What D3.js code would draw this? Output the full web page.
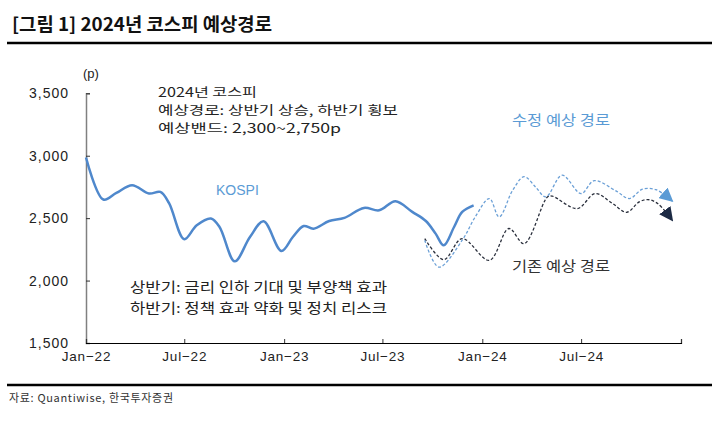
<!DOCTYPE html>
<html><head><meta charset="utf-8">
<script src="https://cdn.jsdelivr.net/npm/d3@7"></script>
<style>
body{margin:0;background:#fff;}
svg{display:block;font-family:"Noto Sans CJK KR","Noto Sans",sans-serif;}
</style></head><body>
<svg id="c" width="719" height="424"></svg>
<script>
// ---- data ----
const kospiDates = ["2022-01-01","2022-02-02","2022-02-26","2022-03-27","2022-04-27","2022-05-18","2022-06-03","2022-07-01","2022-07-24","2022-08-19","2022-09-04","2022-10-02","2022-10-30","2022-11-24","2022-12-27","2023-01-17","2023-02-06","2023-02-24","2023-03-25","2023-04-22","2023-05-28","2023-06-25","2023-07-25","2023-08-25","2023-09-19","2023-10-07","2023-10-22","2023-11-10","2023-11-25","2023-12-16"];
const kospiValues = [2986,2649,2702,2764,2697,2710,2620,2331,2443,2497,2429,2154,2349,2475,2237,2349,2437,2416,2477,2502,2582,2563,2636,2550,2477,2376,2282,2429,2550,2603];
const revisedDates = ["2023-09-17","2023-10-13","2023-11-25","2023-12-19","2024-01-14","2024-02-01","2024-02-26","2024-03-18","2024-04-08","2024-04-27","2024-05-27","2024-07-01","2024-07-25","2024-09-04","2024-09-28","2024-10-22","2024-11-16","2024-12-16"];
const revisedValues = [2323,2108,2323,2510,2657,2510,2724,2832,2750,2670,2844,2697,2800,2716,2657,2732,2728,2636];
const originalDates = ["2023-09-17","2023-10-22","2023-11-25","2024-01-14","2024-02-19","2024-03-18","2024-04-30","2024-05-09","2024-06-24","2024-07-27","2024-08-28","2024-09-23","2024-10-16","2024-11-01","2024-11-19","2024-12-16"];
const originalValues = [2336,2168,2336,2162,2417,2296,2670,2676,2577,2697,2617,2547,2630,2649,2617,2483];
const yTicks = [1500,2000,2500,3000,3500];
const xTickDates = ["2022-01-01","2022-07-01","2023-01-01","2023-07-01","2024-01-01","2024-07-01","2025-01-01"];
const xTickLabels = ["Jan−22","Jul−22","Jan−23","Jul−23","Jan−24","Jul−24",""];
const title = "[그림 1] 2024년 코스피 예상경로";
const source = "자료: Quantiwise, 한국투자증권";
const noteTop = ["2024년 코스피","예상경로: 상반기 상승, 하반기 횡보","예상밴드: 2,300~2,750p"];
const noteBottom = ["상반기: 금리 인하 기대 및 부양책 효과","하반기: 정책 효과 약화 및 정치 리스크"];

const parse = d3.timeParse("%Y-%m-%d");
const svg = d3.select("#c");
const x = d3.scaleTime().domain([parse("2022-01-01"), parse("2025-01-01")]).range([86, 681]);
const y = d3.scaleLinear().domain([1500, 3500]).range([343, 93.3]);
const lf = "Liberation Sans, Arial, sans-serif";
const tf = "Noto Sans CJK KR, sans-serif";

// title & rules
svg.append("text").attr("x", 12).attr("y", 31).attr("font-size", 18).attr("font-weight", 700)
  .attr("fill", "#111").attr("textLength", 260).attr("lengthAdjust", "spacingAndGlyphs").text(title);
svg.append("line").attr("x1", 7).attr("x2", 712).attr("y1", 43).attr("y2", 43).attr("stroke", "#000").attr("stroke-width", 2.5);
svg.append("line").attr("x1", 7).attr("x2", 712).attr("y1", 385).attr("y2", 385).attr("stroke", "#000").attr("stroke-width", 2.5);
svg.append("text").attr("x", 9).attr("y", 402).attr("font-size", 11).attr("fill", "#333")
  .attr("textLength", 164).attr("lengthAdjust", "spacing").text(source);

// axes
const yAxis = svg.append("g").attr("transform", "translate(86,0)")
  .call(d3.axisRight(y).tickValues(yTicks).tickSize(4).tickFormat(d3.format(",")));
yAxis.select(".domain").attr("stroke", "#808080").attr("stroke-width", 1.5);
yAxis.selectAll(".tick line").attr("stroke", "#333");
yAxis.selectAll(".tick text").attr("x", -17).attr("text-anchor", "end").attr("font-size", 14)
  .attr("letter-spacing", 1).attr("fill", "#222").attr("font-family", lf);

const xAxis = svg.append("g").attr("transform", "translate(0,343)")
  .call(d3.axisTop(x).tickValues(xTickDates.map(parse)).tickSize(4)
    .tickFormat((d, i) => xTickLabels[i]));
xAxis.select(".domain").attr("stroke", "#000").attr("stroke-width", 1.2);
xAxis.selectAll(".tick line").attr("stroke", "#333");
xAxis.selectAll(".tick text").attr("y", 18).attr("font-size", 13.5).attr("letter-spacing", 0.8)
  .attr("fill", "#222").attr("font-family", lf);

svg.append("text").attr("x", 83).attr("y", 78).attr("font-size", 13).attr("fill", "#222")
  .attr("font-family", lf).text("(p)");

// markers
const defs = svg.append("defs");
function marker(id, color) {
  defs.append("marker").attr("id", id).attr("viewBox", "0 0 10 10").attr("refX", 9).attr("refY", 5)
    .attr("markerUnits", "userSpaceOnUse").attr("markerWidth", 14).attr("markerHeight", 14).attr("orient", "auto")
    .append("path").attr("d", "M0,0 L10,5 L0,10 Z").attr("fill", color);
}
marker("mRev", "#5b9bd5");
marker("mOrig", "#1c2a44");

const line = d3.line().x(d => x(d[0])).y(d => y(d[1])).curve(d3.curveCatmullRom.alpha(0.5));
const zip = (ds, vs) => ds.map((d, i) => [parse(d), vs[i]]);

svg.append("path").datum(zip(originalDates, originalValues)).attr("d", line)
  .attr("fill", "none").attr("stroke", "#2a2f3c").attr("stroke-width", 1.3).attr("stroke-dasharray", "3,2")
  .attr("marker-end", "url(#mOrig)");
svg.append("path").datum(zip(revisedDates, revisedValues)).attr("d", line)
  .attr("fill", "none").attr("stroke", "#6a9fd6").attr("stroke-width", 1.3).attr("stroke-dasharray", "3,2")
  .attr("marker-end", "url(#mRev)");
svg.append("path").datum(zip(kospiDates, kospiValues)).attr("d", line)
  .attr("fill", "none").attr("stroke", "#4f88cc").attr("stroke-width", 2.5);

// annotations
const topLens = [99, 240, 183];
noteTop.forEach((t, i) => svg.append("text").attr("x", 158).attr("y", 96.5 + i * 18.3).attr("font-size", 12.5)
  .attr("fill", "#222").attr("font-family", tf).attr("textLength", topLens[i]).attr("lengthAdjust", "spacingAndGlyphs").text(t));
const botLens = [257, 257];
noteBottom.forEach((t, i) => svg.append("text").attr("x", 130).attr("y", 292 + i * 20.5).attr("font-size", 13.5)
  .attr("fill", "#222").attr("font-family", tf).attr("textLength", botLens[i]).attr("lengthAdjust", "spacingAndGlyphs").text(t));
svg.append("text").attr("x", 216).attr("y", 195).attr("font-size", 14).attr("fill", "#5b9bd5")
  .attr("font-family", lf).text("KOSPI");
svg.append("text").attr("x", 512).attr("y", 125).attr("font-size", 14).attr("fill", "#5b9bd5")
  .attr("font-family", tf).attr("textLength", 98).attr("lengthAdjust", "spacingAndGlyphs").text("수정 예상 경로");
svg.append("text").attr("x", 512).attr("y", 271).attr("font-size", 14).attr("fill", "#333")
  .attr("font-family", tf).attr("textLength", 98).attr("lengthAdjust", "spacingAndGlyphs").text("기존 예상 경로");
</script></body></html>
